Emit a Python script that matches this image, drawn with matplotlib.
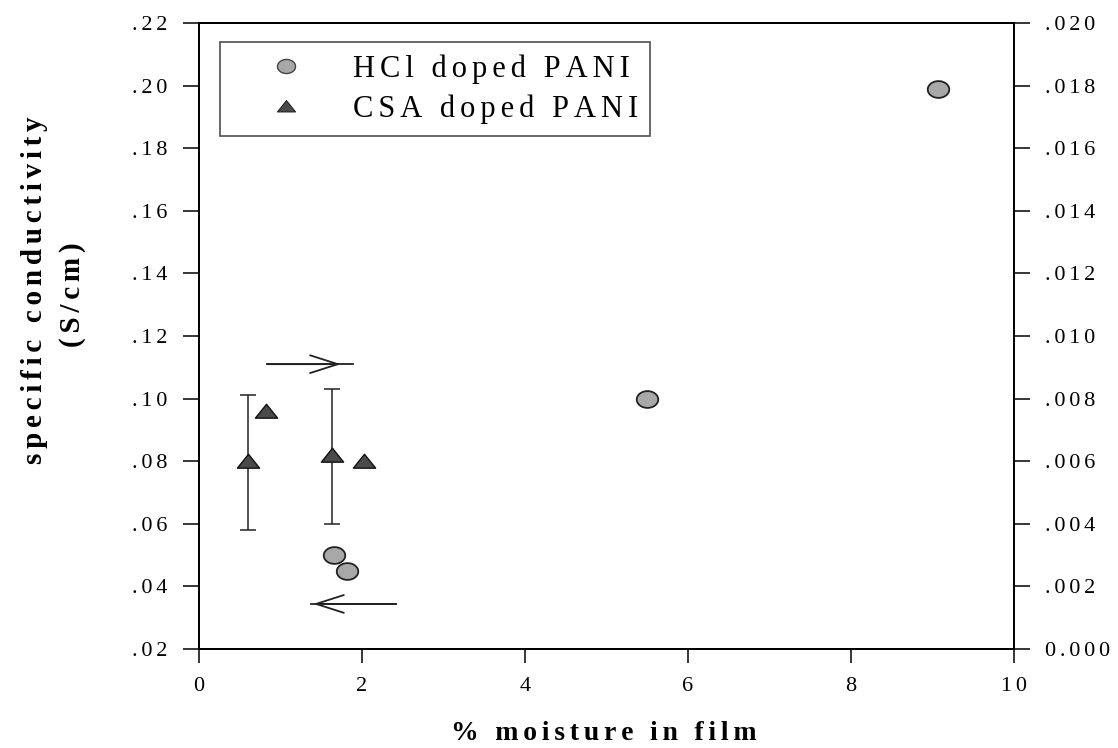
import matplotlib
matplotlib.use("Agg")
import matplotlib.pyplot as plt
import numpy as np
from matplotlib.path import Path
from matplotlib.lines import Line2D

plt.rcParams['font.family'] = ['Liberation Serif', 'DejaVu Serif']
plt.rcParams['axes.linewidth'] = 1.3

GAP = '\u200a\u200a'  # two hair spaces between letters

def spaced(s, sep=GAP):
    # wide letter spacing like the old typewriter-style plot
    return sep.join(s)

# HCl doped PANI, left axis (S/cm)
hcl_moist = [1.66, 1.82, 5.50, 9.07]
hcl_cond = [0.050, 0.045, 0.100, 0.199]

# CSA doped PANI, right axis (S/cm)
csa_moist = [0.60, 0.82, 1.63, 2.02]
csa_cond = [0.0060, 0.0076, 0.0062, 0.0060]
csa_err_x = [0.60, 1.63]
csa_err_y = [0.0060, 0.0062]
csa_err_lo = [0.0022, 0.0022]
csa_err_hi = [0.0021, 0.0021]

left_ticks = [0.02, 0.04, 0.06, 0.08, 0.10, 0.12, 0.14, 0.16, 0.18, 0.20, 0.22]
left_labels = ['.02', '.04', '.06', '.08', '.10', '.12', '.14', '.16', '.18', '.20', '.22']
right_ticks = [0.000, 0.002, 0.004, 0.006, 0.008, 0.010, 0.012, 0.014, 0.016, 0.018, 0.020]
right_labels = ['0.000', '.002', '.004', '.006', '.008', '.010', '.012', '.014', '.016', '.018', '.020']
x_ticks = [0, 2, 4, 6, 8, 10]

# flattened marker shapes
t = np.linspace(0, 2 * np.pi, 60)
ellipse = Path(np.column_stack([np.cos(t), 0.78 * np.sin(t)]), closed=True)
tri = Path([(-1, -0.6), (1, -0.6), (0, 0.65), (-1, -0.6)], closed=True)

fig = plt.figure(figsize=(11.18, 7.48), dpi=100)
ax = fig.add_axes([199 / 1118, 1 - 649 / 748, 815 / 1118, 626 / 748])
ax2 = ax.twinx()

ax.set_xlim(0, 10)
ax.set_ylim(0.02, 0.22)
ax2.set_ylim(0.0, 0.020)

ax.plot(hcl_moist, hcl_cond, linestyle='none', marker=ellipse, markersize=15.5,
        markerfacecolor='#a8a8a8', markeredgecolor='#222222', markeredgewidth=1.3, zorder=5)

ax2.errorbar(csa_err_x, csa_err_y, yerr=[csa_err_lo, csa_err_hi], fmt='none',
             ecolor='#222222', elinewidth=1.1, capsize=6, capthick=1.1, zorder=3)
ax2.plot(csa_moist, csa_cond, linestyle='none', marker=tri, markersize=16,
         markerfacecolor='#4a4a4a', markeredgecolor='#111111', markeredgewidth=1.0, zorder=5)

# arrows showing which axis each series belongs to
ax.plot([0.84, 1.89], [0.111, 0.111], color='#222222', lw=1.3)
ax.annotate('', xy=(1.74, 0.111), xytext=(0.84, 0.111),
            arrowprops=dict(arrowstyle='->,head_length=1.0,head_width=0.32',
                            color='#222222', lw=1.3, mutation_scale=20,
                            shrinkA=0, shrinkB=0))
ax.plot([1.38, 2.42], [0.0344, 0.0344], color='#222222', lw=1.3)
ax.annotate('', xy=(1.40, 0.0344), xytext=(2.42, 0.0344),
            arrowprops=dict(arrowstyle='->,head_length=1.0,head_width=0.32',
                            color='#222222', lw=1.3, mutation_scale=20,
                            shrinkA=0, shrinkB=0))

ax.set_xticks(x_ticks)
ax.set_xticklabels([spaced(str(v)) for v in x_ticks], fontsize=16)
ax.set_yticks(left_ticks)
ax.set_yticklabels([spaced(s) for s in left_labels], fontsize=16)
ax2.set_yticks(right_ticks)
ax2.set_yticklabels([spaced(s) for s in right_labels], fontsize=16)

ax.tick_params(axis='x', direction='out', length=10, width=1.1, pad=10, top=False)
ax.tick_params(axis='y', direction='out', length=11.5, width=1.1, pad=11, right=False)
ax2.tick_params(axis='y', direction='out', length=11.5, width=1.1, pad=11)

fig.text(604 / 1118, 1 - 733 / 748, spaced('% moisture in film'),
         fontsize=20, fontweight='bold', ha='center', va='center')
fig.text(35 / 1118, 1 - 290 / 748, spaced('specific conductivity'), rotation=90,
         fontsize=21, fontweight='bold', ha='center', va='center')
fig.text(73 / 1118, 1 - 295 / 748, spaced('(S/cm)'), rotation=90,
         fontsize=21, fontweight='bold', ha='center', va='center')

handles = [
    Line2D([], [], linestyle='none', marker=ellipse, markersize=13,
           markerfacecolor='#a8a8a8', markeredgecolor='#444444', markeredgewidth=1.0),
    Line2D([], [], linestyle='none', marker=tri, markersize=13,
           markerfacecolor='#4a4a4a', markeredgecolor='#222222', markeredgewidth=0.8),
]
leg = ax2.legend(handles, [spaced('HCl doped PANI'), spaced('CSA doped PANI')],
                 loc='upper left', bbox_to_anchor=(21 / 815, 1 - 19 / 626),
                 fontsize=22, frameon=True, fancybox=False, edgecolor='#222222',
                 handlelength=3.5, handletextpad=0.45, borderpad=0.4, labelspacing=0.35,
                 borderaxespad=0)
leg.get_frame().set_linewidth(1.2)

fig.savefig('out.png', dpi=100)
